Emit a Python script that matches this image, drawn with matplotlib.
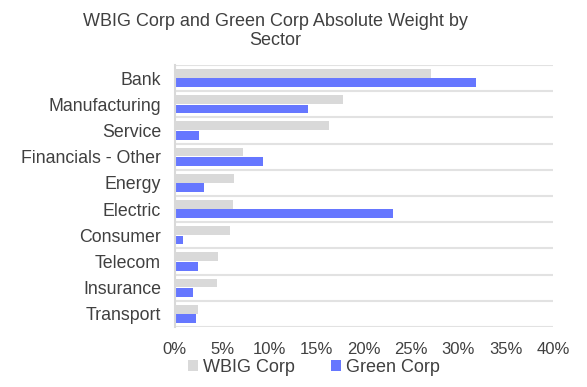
import numpy as np
import matplotlib.pyplot as plt
from matplotlib.ticker import FuncFormatter

plt.rcParams['font.family'] = ['Liberation Sans', 'DejaVu Sans']

sectors = ["Bank", "Manufacturing", "Service", "Financials - Other", "Energy",
           "Electric", "Consumer", "Telecom", "Insurance", "Transport"]
wbig = [27.1, 17.8, 16.3, 7.2, 6.3, 6.1, 5.8, 4.6, 4.4, 2.4]
green = [31.9, 14.1, 2.6, 9.3, 3.1, 23.1, 0.9, 2.4, 1.9, 2.2]

fig = plt.figure(figsize=(5.87, 3.87), dpi=100)
ax = fig.add_axes([0.298, 0.155, 0.644, 0.677])

y = np.arange(len(sectors))
h = 0.34
ax.barh(y - h / 2 - 0.01, wbig, height=h, color="#D9D9D9", label="WBIG Corp")
ax.barh(y + h / 2 + 0.01, green, height=h, color="#6677FF", label="Green Corp")

ax.set_xlim(0, 40)
ax.set_ylim(len(sectors) - 0.5, -0.5)
ax.set_xticks(np.arange(0, 41, 5))
ax.xaxis.set_major_formatter(FuncFormatter(lambda v, p: f"{v:.0f}%"))
ax.set_yticks(y)
ax.set_yticklabels(sectors)
ax.set_yticks(np.arange(-0.5, len(sectors), 1), minor=True)
ax.grid(which="minor", axis="y", color="#E2E2E2", linewidth=1.5)
ax.tick_params(which="both", length=0)
ax.tick_params(axis="x", labelsize=12, colors="#404040", pad=11)
ax.tick_params(axis="y", labelsize=12.8, colors="#404040", pad=10)
for s in ["top", "right", "bottom"]:
    ax.spines[s].set_visible(False)
ax.spines["left"].set_color("#D9D9D9")
ax.spines["left"].set_linewidth(1.5)
ax.set_axisbelow(True)

fig.text(0.469, 0.92, "WBIG Corp and Green Corp Absolute Weight by\nSector",
         ha="center", va="center", fontsize=13, color="#404040", linespacing=1.15)

fig.legend(loc="center", bbox_to_anchor=(0.535, 0.05), ncol=2, frameon=False,
           fontsize=13, handlelength=0.55, handleheight=0.55, handletextpad=0.3,
           columnspacing=2.0, labelcolor="#404040")

fig.savefig("out.png", dpi=100)
